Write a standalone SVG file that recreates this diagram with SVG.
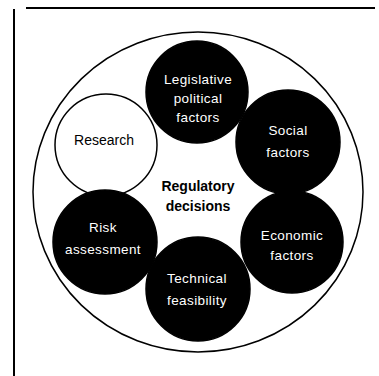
<svg xmlns="http://www.w3.org/2000/svg" width="379" height="376" viewBox="0 0 379 376">
<style>
.dark{fill:#000;stroke:#000;stroke-width:1.5}
.light{fill:#fff;stroke:#000;stroke-width:1.5}
.wt{fill:#fff;font-family:"Liberation Sans",Arial,sans-serif;font-size:13.5px;text-anchor:middle;letter-spacing:0.4px}
.bt{fill:#000;font-family:"Liberation Sans",Arial,sans-serif;font-size:14px;text-anchor:middle}
.ct{fill:#000;font-family:"Liberation Sans",Arial,sans-serif;font-size:14px;font-weight:bold;text-anchor:middle}
</style>
<rect width="379" height="376" fill="#fff"/>
<g id="frame">
<line x1="26" y1="8" x2="375" y2="8" stroke="#000" stroke-width="2"/>
<line x1="14" y1="9" x2="14" y2="376" stroke="#000" stroke-width="2"/>
</g>
<g id="outer">
<ellipse cx="198" cy="192" rx="165" ry="160" fill="#fff" stroke="#000" stroke-width="1.5"/>
</g>
<g id="center">
<text class="ct" x="198" y="191">Regulatory</text>
<text class="ct" x="198" y="211">decisions</text>
</g>
<g id="research">
<circle class="light" cx="106" cy="145" r="51"/>
<text class="bt" x="104" y="145">Research</text>
</g>
<g id="legislative">
<circle class="dark" cx="197" cy="92" r="51"/>
<text class="wt" x="198" y="84">Legislative</text>
<text class="wt" x="198" y="103">political</text>
<text class="wt" x="198" y="122">factors</text>
</g>
<g id="social">
<circle class="dark" cx="288" cy="142" r="52"/>
<text class="wt" x="288" y="135">Social</text>
<text class="wt" x="288" y="157">factors</text>
</g>
<g id="risk">
<circle class="dark" cx="105" cy="242" r="52"/>
<text class="wt" x="103" y="232">Risk</text>
<text class="wt" x="103" y="254">assessment</text>
</g>
<g id="economic">
<circle class="dark" cx="292" cy="242" r="51"/>
<text class="wt" x="292" y="240">Economic</text>
<text class="wt" x="292" y="260">factors</text>
</g>
<g id="technical">
<circle class="dark" cx="198" cy="289" r="52"/>
<text class="wt" x="197" y="283">Technical</text>
<text class="wt" x="197" y="305">feasibility</text>
</g>
<g id="connectors"/>
</svg>
